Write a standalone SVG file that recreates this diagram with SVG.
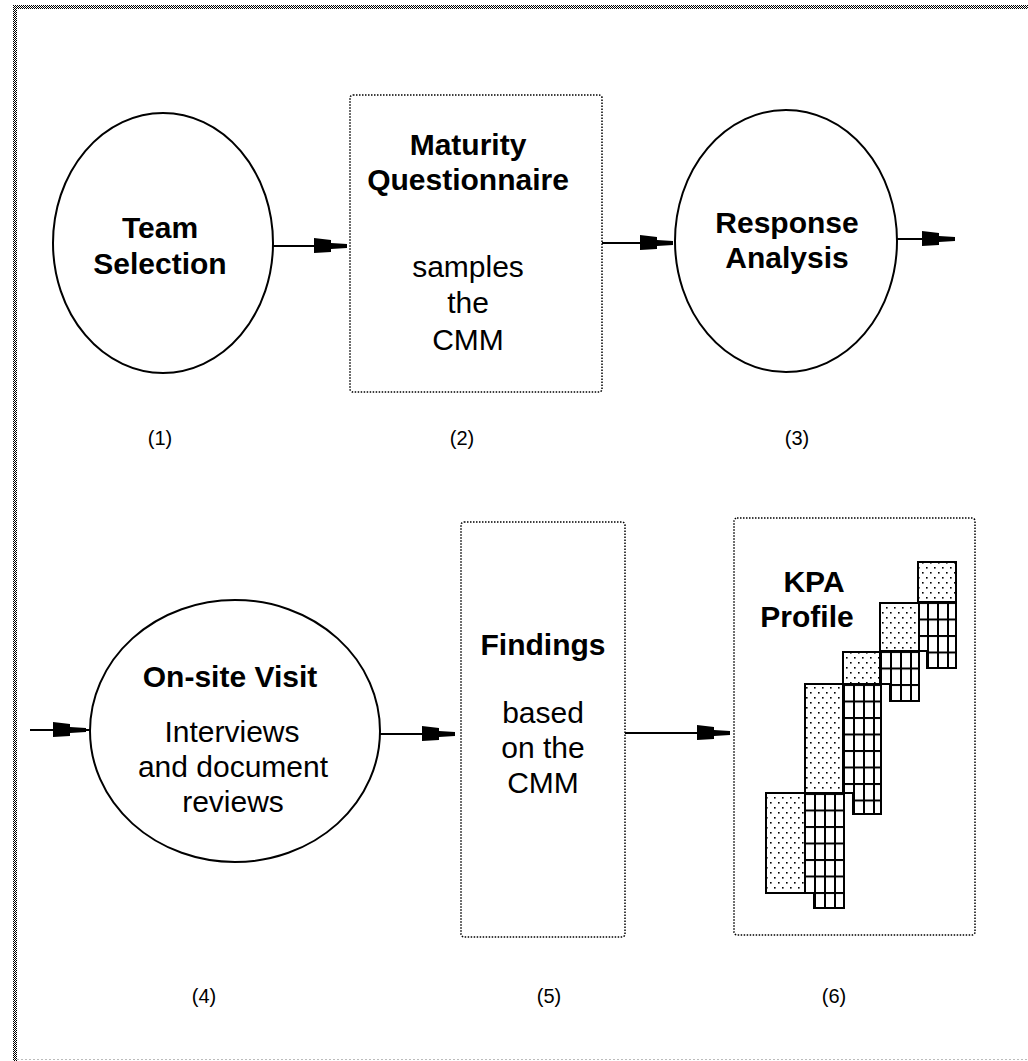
<svg xmlns="http://www.w3.org/2000/svg" xmlns:xlink="http://www.w3.org/1999/xlink" width="1028" height="1061" viewBox="0 0 1028 1061">
<style>
  .bg { fill: #fff; }
  .ell { fill: #fff; stroke: #000; stroke-width: 2; }
  .box { fill: #fff; stroke: #000; stroke-width: 1.5; stroke-dasharray: 1.5 1.5; }
  .b { font-family: "Liberation Sans", Arial, sans-serif; font-weight: bold; font-size: 30px; text-anchor: middle; fill: #000; }
  .r { font-family: "Liberation Sans", Arial, sans-serif; font-size: 30px; text-anchor: middle; fill: #000; }
  .n { font-family: "Liberation Sans", Arial, sans-serif; font-size: 20px; text-anchor: middle; fill: #000; }
  .ln { stroke: #000; stroke-width: 2; fill: none; }
  .dot { fill: url(#dots); stroke: #000; stroke-width: 2; }
  .grd { fill: url(#grid); stroke: #000; stroke-width: 2; }
</style>
<defs>
  <pattern id="chk" width="2" height="2" patternUnits="userSpaceOnUse">
    <rect width="1" height="1" fill="#000"/>
    <rect x="1" y="1" width="1" height="1" fill="#000"/>
  </pattern>
  <pattern id="dots" width="8" height="10" patternUnits="userSpaceOnUse">
    <rect width="8" height="10" fill="#fff"/>
    <rect x="2" y="2" width="1.6" height="1.6" fill="#000"/>
    <rect x="6" y="7" width="1.6" height="1.6" fill="#000"/>
  </pattern>
  <pattern id="grid" width="10" height="16.5" patternUnits="userSpaceOnUse">
    <rect width="10" height="16.5" fill="#fff"/>
    <rect x="0" y="0" width="2" height="16.5" fill="#000"/>
    <rect x="0" y="0" width="10" height="2" fill="#000"/>
  </pattern>
  <path id="ah" d="M0,-2 L-16,-3 L-16,-6 L-33,-8 L-33,7 L-16,6 L-16,3 L0,2 Z" fill="#000"/>
</defs>

<rect class="bg" x="0" y="0" width="1028" height="1061"/>

<g id="frame">
  <rect x="13" y="5" width="1015" height="4" fill="url(#chk)"/>
  <rect x="13" y="5" width="4" height="1056" fill="url(#chk)"/>
  <line x1="17" y1="1059.5" x2="1028" y2="1059.5" stroke="#bbb" stroke-width="1" stroke-dasharray="2 2"/>
</g>

<g id="connectors">
  <line class="ln" x1="273" y1="246" x2="345" y2="246"/>
  <use xlink:href="#ah" x="347" y="246"/>
  <line class="ln" x1="602" y1="243" x2="671" y2="243"/>
  <use xlink:href="#ah" x="673" y="243"/>
  <line class="ln" x1="897" y1="239" x2="953" y2="239"/>
  <use xlink:href="#ah" x="955" y="239"/>
  <line class="ln" x1="30" y1="730" x2="90" y2="730"/>
  <use xlink:href="#ah" x="86" y="730"/>
  <line class="ln" x1="380" y1="734" x2="453" y2="734"/>
  <use xlink:href="#ah" x="455" y="734"/>
  <line class="ln" x1="625" y1="733" x2="728" y2="733"/>
  <use xlink:href="#ah" x="730" y="733"/>
</g>

<g id="node1">
  <ellipse class="ell" cx="163" cy="243" rx="110" ry="130"/>
  <text class="b" x="160" y="238">Team</text>
  <text class="b" x="160" y="274">Selection</text>
  <text class="n" x="160" y="445">(1)</text>
</g>

<g id="node2">
  <rect class="box" x="350" y="95" width="252" height="297" rx="3"/>
  <text class="b" x="468" y="155">Maturity</text>
  <text class="b" x="468" y="190">Questionnaire</text>
  <text class="r" x="468" y="277">samples</text>
  <text class="r" x="468" y="313">the</text>
  <text class="r" x="468" y="350">CMM</text>
  <text class="n" x="462" y="445">(2)</text>
</g>

<g id="node3">
  <ellipse class="ell" cx="786" cy="241" rx="111" ry="131"/>
  <text class="b" x="787" y="233">Response</text>
  <text class="b" x="787" y="268">Analysis</text>
  <text class="n" x="797" y="445">(3)</text>
</g>

<g id="node4">
  <ellipse class="ell" cx="235" cy="731" rx="145" ry="131"/>
  <text class="b" x="230" y="687">On-site Visit</text>
  <text class="r" x="232" y="742">Interviews</text>
  <text class="r" x="233" y="777">and document</text>
  <text class="r" x="233" y="812">reviews</text>
  <text class="n" x="204" y="1003">(4)</text>
</g>

<g id="node5">
  <rect class="box" x="461" y="522" width="164" height="415" rx="3"/>
  <text class="b" x="543" y="655">Findings</text>
  <text class="r" x="543" y="723">based</text>
  <text class="r" x="543" y="758">on the</text>
  <text class="r" x="543" y="793">CMM</text>
  <text class="n" x="549" y="1003">(5)</text>
</g>

<g id="node6">
  <rect class="box" x="734" y="518" width="241" height="417" rx="3"/>
  <text class="b" x="814" y="592">KPA</text>
  <text class="b" x="807" y="627">Profile</text>
  <g id="kpa-chart">
    <g transform="translate(927,602)"><polygon class="grd" points="-9,0 29,0 29,66 0,66 0,49 -9,49"/></g>
    <g transform="translate(890,651)"><polygon class="grd" points="-10,0 29,0 29,50 0,50 0,33 -10,33"/></g>
    <g transform="translate(853,684)"><polygon class="grd" points="-10,0 28,0 28,130 0,130 0,109 -10,109"/></g>
    <g transform="translate(814,793)"><polygon class="grd" points="-9,0 30,0 30,115 0,115 0,100 -9,100"/></g>
    <rect class="dot" x="918" y="562" width="38" height="40"/>
    <rect class="dot" x="880" y="603" width="39" height="48"/>
    <rect class="dot" x="843" y="652" width="37" height="32"/>
    <rect class="dot" x="805" y="684" width="38" height="109"/>
    <rect class="dot" x="766" y="793" width="39" height="100"/>
  </g>
  <text class="n" x="834" y="1003">(6)</text>
</g>
</svg>
